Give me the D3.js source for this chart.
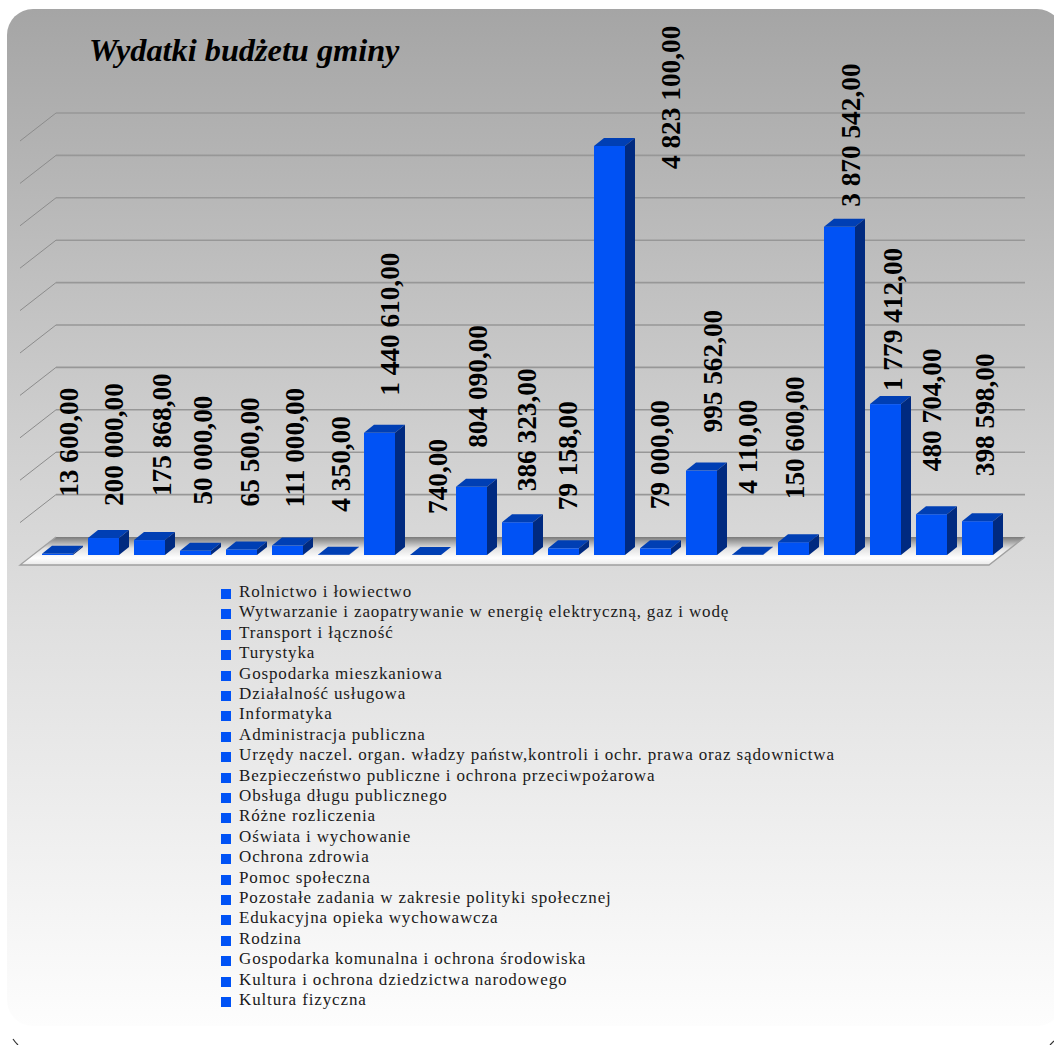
<!DOCTYPE html>
<html>
<head>
<meta charset="utf-8">
<script src="https://cdn.jsdelivr.net/npm/d3@7/dist/d3.min.js"></script>
<style>
  html, body { margin: 0; padding: 0; background: #fff; overflow: hidden; }
  svg { display: block; }
  text { font-family: "Liberation Serif", serif; fill: #1a1a1a; }
</style>
</head>
<body>
<svg id="chart"></svg>
<script>
const title = "Wydatki budżetu gminy";

const categories = [
  "Rolnictwo i łowiectwo",
  "Wytwarzanie i zaopatrywanie w energię elektryczną, gaz i wodę",
  "Transport i łączność",
  "Turystyka",
  "Gospodarka mieszkaniowa",
  "Działalność usługowa",
  "Informatyka",
  "Administracja publiczna",
  "Urzędy naczel. organ. władzy państw,kontroli i ochr. prawa oraz sądownictwa",
  "Bezpieczeństwo publiczne i ochrona przeciwpożarowa",
  "Obsługa długu publicznego",
  "Różne rozliczenia",
  "Oświata i wychowanie",
  "Ochrona zdrowia",
  "Pomoc społeczna",
  "Pozostałe zadania w zakresie polityki społecznej",
  "Edukacyjna opieka wychowawcza",
  "Rodzina",
  "Gospodarka komunalna i ochrona środowiska",
  "Kultura i ochrona dziedzictwa narodowego",
  "Kultura fizyczna"
];

const values = [
  13600, 200000, 175868, 50000, 65500, 111000, 4350, 1440610, 740, 804090, 386323,
  79158, 4823100, 79000, 995562, 4110, 150600, 3870542, 1779412, 480704, 398598
];

const valueLabels = [
  "13 600,00", "200 000,00", "175 868,00", "50 000,00", "65 500,00", "111 000,00",
  "4 350,00", "1 440 610,00", "740,00", "804 090,00", "386 323,00", "79 158,00",
  "4 823 100,00", "79 000,00", "995 562,00", "4 110,00", "150 600,00",
  "3 870 542,00", "1 779 412,00", "480 704,00", "398 598,00"
];

// the labels were placed by hand in the original, so each gets its own nudge
const labelDx = [
  11.5, 10.5, 12, 7, 8.5, 7.5, 7.5, 10.5, 12.5, 6.5, 9.5,
  4.5, 61.5, 4.5, 11.5, 0.5, 1.5, 11.5, 7.5, 0.5, 7.5
];
const labelDy = [
  -57, -32, -44, -46, -43, -38, -43, -37, -41, -39, -31,
  -38, 23, -39, -38, -61, -43, -20, -13, -43, -45
];

const width = 1054;
const height = 1045;

const depthX = 10, depthY = 8;
const wallX = 36, wallY = 28;

const svg = d3.select("#chart").attr("width", width).attr("height", height);
const defs = svg.append("defs");

const panelGrad = defs.append("linearGradient").attr("id", "panel")
  .attr("x1", 0).attr("x2", 0).attr("y1", 0).attr("y2", 1);
panelGrad.append("stop").attr("offset", "0%").attr("stop-color", "#a5a5a5");
panelGrad.append("stop").attr("offset", "43%").attr("stop-color", "#d0d0d0");
panelGrad.append("stop").attr("offset", "60%").attr("stop-color", "#dfdfdf");
panelGrad.append("stop").attr("offset", "100%").attr("stop-color", "#fdfdfd");

const floorGrad = defs.append("linearGradient").attr("id", "floor")
  .attr("x1", 0).attr("x2", 0).attr("y1", 0).attr("y2", 1);
floorGrad.append("stop").attr("offset", "0%").attr("stop-color", "#7a7a7a");
floorGrad.append("stop").attr("offset", "40%").attr("stop-color", "#e0e0e0");
floorGrad.append("stop").attr("offset", "75%").attr("stop-color", "#ffffff");
floorGrad.append("stop").attr("offset", "100%").attr("stop-color", "#e8e8e8");

svg.append("rect")
  .attr("x", 7).attr("y", 9)
  .attr("width", 1056).attr("height", 1017)
  .attr("rx", 26).attr("ry", 26)
  .attr("fill", "url(#panel)");

// bits of the dark outer frame that show in the bottom corners
svg.append("path")
  .attr("d", "M13,1039Q15,1042 18,1045M1054,1041Q1052,1043 1050,1045")
  .attr("fill", "none").attr("stroke", "#333").attr("stroke-width", 1.2);

const y = d3.scaleLinear().domain([0, 5000000]).range([537, 113]);
const x = d3.scaleBand()
  .domain(d3.range(categories.length))
  .range([34.5, 1000.5])
  .paddingInner(0.326)
  .paddingOuter(0.163);

const wallLeft = 56, wallRight = 1025;

// floor
const floorY = y(0);
svg.append("path")
  .attr("d", `M${wallLeft},${floorY}H${wallRight}L${wallRight - wallX},${floorY + wallY}H${wallLeft - wallX}Z`)
  .attr("fill", "url(#floor)");
svg.append("path")
  .attr("d", `M${wallLeft},${floorY}L${wallLeft - wallX},${floorY + wallY}H${wallRight - wallX}L${wallRight},${floorY}`)
  .attr("fill", "none").attr("stroke", "#a0a0a0").attr("stroke-width", 1.3);

// grid, back wall and left wall
const ticks = y.ticks(10).filter(t => t > 0);
svg.selectAll("line.grid")
  .data(ticks)
  .enter()
  .append("line")
  .attr("class", "grid")
  .attr("x1", wallLeft).attr("x2", wallRight)
  .attr("y1", d => y(d)).attr("y2", d => y(d))
  .attr("stroke", "#979797").attr("stroke-width", 1.6);
svg.selectAll("line.side")
  .data(ticks)
  .enter()
  .append("line")
  .attr("class", "side")
  .attr("x1", wallLeft).attr("x2", wallLeft - wallX)
  .attr("y1", d => y(d)).attr("y2", d => y(d) + wallY)
  .attr("stroke", "#8c8c8c").attr("stroke-width", 1);

// bars, front base sits part way into the floor
const barShift = 18;
const bars = svg.selectAll("g.bar")
  .data(values)
  .enter()
  .append("g")
  .attr("class", "bar");

bars.append("rect")
  .attr("x", (d, i) => x(i))
  .attr("y", d => y(d) + barShift)
  .attr("width", x.bandwidth())
  .attr("height", d => y(0) - y(d))
  .attr("fill", "#0052f5");

bars.append("path")
  .attr("d", (d, i) => {
    const x0 = x(i), w = x.bandwidth(), t = y(d) + barShift;
    return `M${x0},${t}l${depthX},${-depthY}h${w}l${-depthX},${depthY}Z`;
  })
  .attr("fill", "#003fb4");

bars.append("path")
  .attr("d", (d, i) => {
    const r = x(i) + x.bandwidth(), t = y(d) + barShift, b = y(0) + barShift;
    return `M${r},${t}l${depthX},${-depthY}V${b - depthY}L${r},${b}Z`;
  })
  .attr("fill", "#002a80");

// value labels
svg.selectAll("text.value")
  .data(values)
  .enter()
  .append("text")
  .attr("class", "value")
  .attr("transform", (d, i) => {
    const lx = x(i) + x.bandwidth() / 2 + labelDx[i];
    const ly = y(d) + barShift + labelDy[i];
    return `translate(${lx},${ly}) rotate(-90)`;
  })
  .attr("dy", "0.33em")
  .attr("font-size", 27.3)
  .attr("font-weight", "bold")
  .style("fill", "#000")
  .text((d, i) => valueLabels[i]);

// title
svg.append("text")
  .attr("x", 89).attr("y", 61)
  .attr("font-size", 32.3)
  .attr("font-weight", "bold")
  .attr("font-style", "italic")
  .style("fill", "#000")
  .text(title);

// legend
const legendY = d3.scalePoint()
  .domain(d3.range(categories.length))
  .range([597, 1005]);

const legend = svg.selectAll("g.legend")
  .data(categories)
  .enter()
  .append("g")
  .attr("class", "legend")
  .attr("transform", (d, i) => `translate(0,${Math.round(legendY(i))})`);

legend.append("rect")
  .attr("x", 221).attr("y", -8)
  .attr("width", 10).attr("height", 10)
  .attr("fill", "#0052f5");

legend.append("text")
  .attr("x", 239).attr("y", 0)
  .attr("font-size", 17)
  .attr("letter-spacing", 0.87)
  .text(d => d);
</script>
</body>
</html>
